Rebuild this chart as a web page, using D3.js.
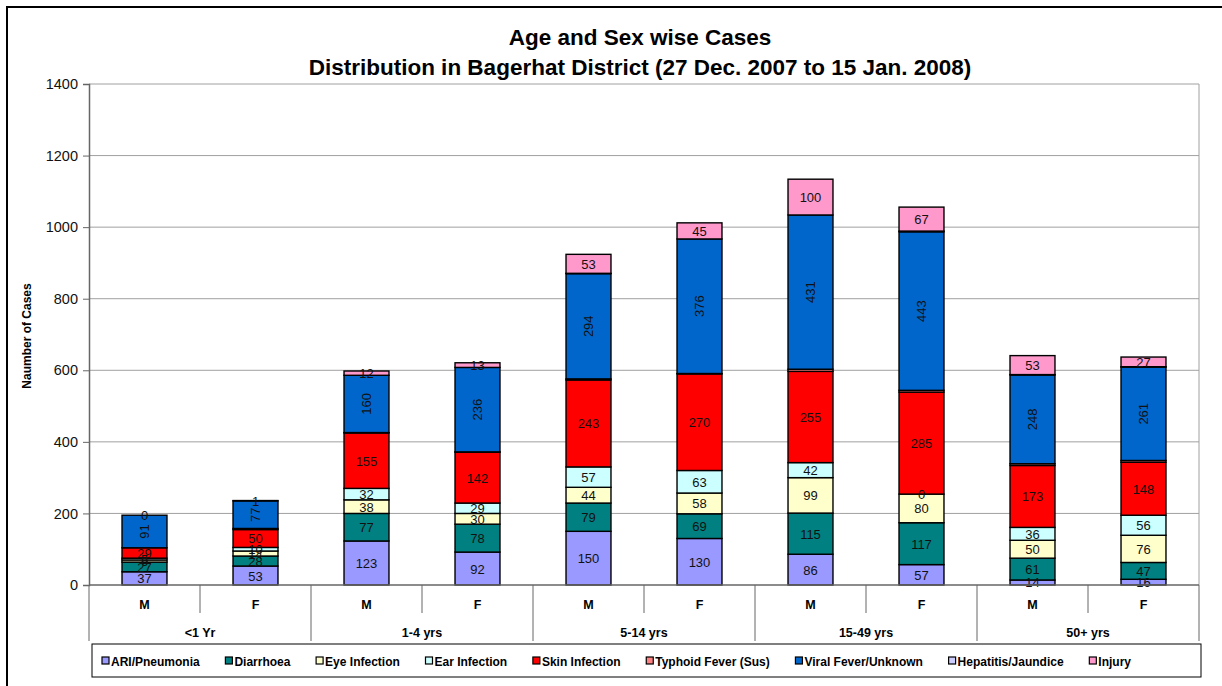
<!DOCTYPE html>
<html><head><meta charset="utf-8">
<script src="https://cdn.jsdelivr.net/npm/d3@7"></script>
<style>
body{margin:0;background:#fff;}
svg{display:block;font-family:"Liberation Sans",Arial,sans-serif;}
</style></head>
<body><svg id="c" width="1222" height="686"></svg>
<script>
const ageGroups = ["<1 Yr","1-4 yrs","5-14 yrs","15-49 yrs","50+ yrs"];
const sexes = ["M","F"];
const seriesNames = ["ARI/Pneumonia","Diarrhoea","Eye Infection","Ear Infection","Skin Infection","Typhoid Fever (Sus)","Viral Fever/Unknown","Hepatitis/Jaundice","Injury"];
const seriesColors = ["#9999FF","#008080","#FFFFCC","#CCFFFF","#FF0000","#FF8080","#0066CC","#CCCCFF","#FF99CC"];
// values per bar: <1M, <1F, 1-4M, 1-4F, 5-14M, 5-14F, 15-49M, 15-49F, 50+M, 50+F
const ari       = [37, 53, 123, 92, 150, 130, 86, 57, 14, 16];
const diarrhoea = [27, 28, 77, 78, 79, 69, 115, 117, 61, 47];
const eye       = [6, 14, 38, 30, 44, 58, 99, 80, 50, 76];
const ear       = [5, 10, 32, 29, 57, 63, 42, 0, 36, 56];
const skin      = [29, 50, 155, 142, 243, 270, 255, 285, 173, 148];
const typhoid   = [0, 3, 1, 1, 3, 1, 6, 5, 5, 5];
const viral     = [91, 77, 160, 236, 294, 376, 431, 443, 248, 261];
const hepatitis = [0, 0, 0, 0, 1, 0, 0, 2, 1, 1];
const injury    = [0, 1, 12, 13, 53, 45, 100, 67, 53, 27];
const yTicks = [0,200,400,600,800,1000,1200,1400];
const labelled = [true,true,true,true,true,false,true,false,true];
const rotated  = [false,false,false,false,false,false,true,false,false];

const allSeries = [ari,diarrhoea,eye,ear,skin,typhoid,viral,hepatitis,injury];
const bars = [];
ageGroups.forEach((g,gi)=>sexes.forEach((s,si)=>{
  const i = gi*2+si;
  const row = {key:g+"|"+s, group:g, sex:s};
  seriesNames.forEach((n,k)=>row[n]=allSeries[k][i]);
  bars.push(row);
}));

const svg = d3.select("#c");
const L=89, R=1199, T=84, B=585;

// outer border
svg.append("rect").attr("x",7).attr("y",7).attr("width",1222).attr("height",700)
  .attr("fill","none").attr("stroke","#000").attr("stroke-width",2);

// title
svg.append("text").attr("x",640).attr("y",45).attr("text-anchor","middle")
  .attr("font-size",22.5).attr("font-weight","bold").text("Age and Sex wise Cases");
svg.append("text").attr("x",640).attr("y",75).attr("text-anchor","middle")
  .attr("font-size",22.5).attr("font-weight","bold").text("Distribution in Bagerhat District (27 Dec. 2007 to 15 Jan. 2008)");

const y = d3.scaleLinear().domain([0,1400]).range([B,T]);
const x = d3.scaleBand().domain(bars.map(d=>d.key)).range([L,R]).paddingInner(0.595).paddingOuter(0.2975);

// gridlines
svg.append("g").selectAll("line").data(yTicks.filter(t=>t>0)).join("line")
  .attr("x1",L).attr("x2",R).attr("y1",d=>y(d)).attr("y2",d=>y(d))
  .attr("stroke","#a0a0a0").attr("stroke-width",1);
// right border of plot
svg.append("line").attr("x1",R).attr("x2",R).attr("y1",T).attr("y2",B).attr("stroke","#a0a0a0");

// y axis
const yAxis = svg.append("g").attr("transform",`translate(${L},0)`)
  .call(d3.axisLeft(y).tickValues(yTicks).tickFormat(d3.format("d")).tickSize(6).tickPadding(5));
yAxis.select(".domain").attr("stroke","#666").attr("stroke-width",1.5);
yAxis.selectAll(".tick line").attr("stroke","#666");
yAxis.selectAll("text").attr("font-size",14.5).attr("fill","#111").attr("font-family","Liberation Sans, Arial, sans-serif");

svg.append("text").attr("transform",`translate(31,336) rotate(-90)`)
  .attr("text-anchor","middle").attr("font-size",12).attr("font-weight","bold").text("Naumber of Cases");

// stacked bars
const stack = d3.stack().keys(seriesNames)(bars);
const gBars = svg.append("g");
stack.forEach((layer,k)=>{
  gBars.append("g").selectAll("rect").data(layer).join("rect")
    .attr("x",d=>x(d.data.key)).attr("width",x.bandwidth())
    .attr("y",d=>y(d[1])).attr("height",d=>Math.max(0,y(d[0])-y(d[1])))
    .attr("fill",seriesColors[k]).attr("stroke","#000").attr("stroke-width",1.4);
});
// labels
const gLab = svg.append("g").attr("font-size",13).attr("fill","#111");
stack.forEach((layer,k)=>{
  if(!labelled[k]) return;
  layer.forEach(d=>{
    const cx = x(d.data.key)+x.bandwidth()/2, cy=(y(d[0])+y(d[1]))/2;
    const t = gLab.append("text").attr("text-anchor","middle").attr("dominant-baseline","central")
      .text(d.data[seriesNames[k]]);
    if(rotated[k]) t.attr("transform",`translate(${cx},${cy}) rotate(-90)`);
    else t.attr("x",cx).attr("y",cy+0.5);
  });
});

// x axis
svg.append("line").attr("x1",L).attr("x2",R).attr("y1",B).attr("y2",B).attr("stroke","#666").attr("stroke-width",1.5);
const step = x.step();
const gx = svg.append("g").attr("stroke","#666").attr("stroke-width",1);
ageGroups.forEach((g,gi)=>{
  const xm = L + step*(gi*2+1);
  gx.append("line").attr("x1",xm).attr("x2",xm).attr("y1",B).attr("y2",613);
});
d3.range(ageGroups.length+1).forEach(i=>{
  const xg = L + step*2*i;
  gx.append("line").attr("x1",xg).attr("x2",xg).attr("y1",B).attr("y2",641);
});
svg.append("g").selectAll("text").data(bars).join("text")
  .attr("x",d=>x(d.key)+x.bandwidth()/2).attr("y",609).attr("text-anchor","middle")
  .attr("font-size",12.5).attr("font-weight","bold").text(d=>d.sex);
svg.append("g").selectAll("text").data(ageGroups).join("text")
  .attr("x",(d,i)=>L+step*(2*i+1)).attr("y",637).attr("text-anchor","middle")
  .attr("font-size",12.5).attr("font-weight","bold").text(d=>d);

// legend
const lg = svg.append("g");
lg.append("rect").attr("x",92).attr("y",644).attr("width",1109).attr("height",33)
  .attr("fill","#fff").attr("stroke","#000").attr("stroke-width",1);
const items = lg.selectAll("g.it").data(seriesNames).join("g").attr("class","it");
items.append("rect").attr("width",7).attr("height",7).attr("y",657)
  .attr("fill",(d,i)=>seriesColors[i]).attr("stroke","#000").attr("stroke-width",1.2);
items.append("text").attr("y",665.5).attr("font-size",12).attr("font-weight","bold").text(d=>d);
let widths=[]; items.select("text").each(function(){widths.push(this.getComputedTextLength()+10);});
const total = d3.sum(widths);
const startX=102, endX=1132;
const gap = (endX-startX-total)/(seriesNames.length-1);
let cx = startX;
items.each(function(d,i){
  d3.select(this).select("rect").attr("x",cx);
  d3.select(this).select("text").attr("x",cx+9);
  cx += widths[i]+gap;
});
</script></body></html>
